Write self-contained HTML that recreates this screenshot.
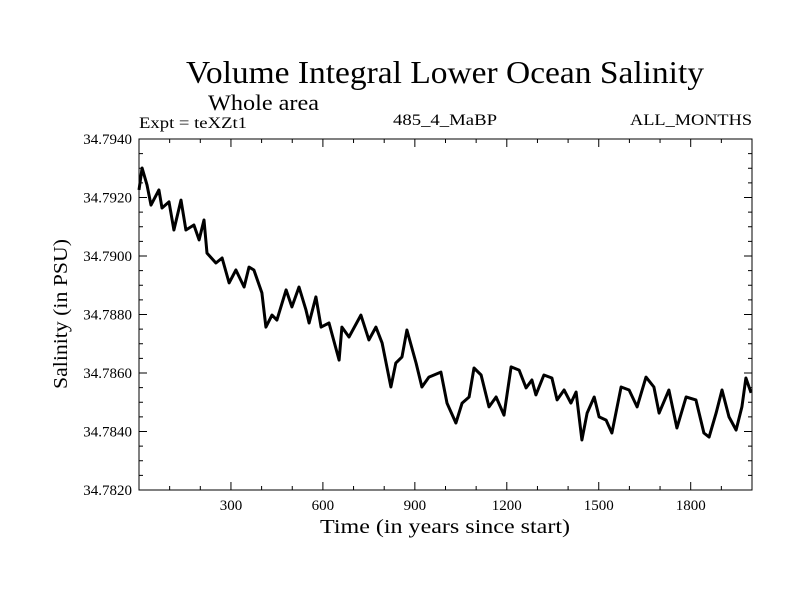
<!DOCTYPE html>
<html><head><meta charset="utf-8"><style>
html,body{margin:0;padding:0;background:#fff}
svg{display:block}
text{font-family:"Liberation Serif",serif;fill:#000}
</style></head><body>
<svg id="chart" width="800" height="600" viewBox="0 0 800 600" xmlns="http://www.w3.org/2000/svg">
<text x="445" y="83" font-size="32" text-anchor="middle" textLength="518" lengthAdjust="spacingAndGlyphs">Volume Integral Lower Ocean Salinity</text>
<text x="208" y="110" font-size="22" textLength="111" lengthAdjust="spacingAndGlyphs">Whole area</text>
<text x="139" y="128" font-size="16" textLength="108" lengthAdjust="spacingAndGlyphs">Expt = teXZt1</text>
<text x="445" y="125" font-size="16" text-anchor="middle" textLength="104" lengthAdjust="spacingAndGlyphs">485_4_MaBP</text>
<text x="752" y="125" font-size="16" text-anchor="end" textLength="122" lengthAdjust="spacingAndGlyphs">ALL_MONTHS</text>
<rect x="139" y="139" width="613" height="351" fill="none" stroke="#000" stroke-width="1"/>
<g id="ticks"></g>
<g id="series"></g>
<text x="445" y="533" font-size="20" text-anchor="middle" textLength="250" lengthAdjust="spacingAndGlyphs">Time (in years since start)</text>
<text x="0" y="0" font-size="20" text-anchor="middle" transform="translate(67,314) rotate(-90)" textLength="150" lengthAdjust="spacingAndGlyphs">Salinity (in PSU)</text>
</svg>
<script>
const years = [0,10,26,39,65,75,98,114,137,153,179,196,212,222,251,271,294,316,343,359,375,401,414,434,450,480,499,522,545,555,577,594,620,653,662,685,724,750,773,793,822,838,858,874,904,923,946,985,1005,1034,1054,1077,1093,1116,1142,1165,1191,1214,1240,1263,1282,1295,1321,1347,1364,1387,1409,1426,1445,1462,1485,1501,1524,1543,1573,1599,1625,1654,1680,1697,1729,1755,1785,1817,1843,1860,1883,1902,1925,1948,1967,1980,1997];
const salinity = [34.79226,34.79301,34.79243,34.79174,34.79226,34.79164,34.79185,34.79089,34.79191,34.79089,34.79106,34.79055,34.79123,34.79010,34.78976,34.78993,34.78908,34.78952,34.78894,34.78962,34.78952,34.78874,34.78757,34.78798,34.78781,34.78884,34.78826,34.78894,34.78815,34.78771,34.78860,34.78757,34.78771,34.78644,34.78757,34.78723,34.78798,34.78713,34.78757,34.78703,34.78552,34.78634,34.78655,34.78747,34.78634,34.78552,34.78586,34.78603,34.78497,34.78429,34.78497,34.78518,34.78617,34.78593,34.78484,34.78518,34.78456,34.78621,34.78610,34.78549,34.78576,34.78525,34.78593,34.78583,34.78508,34.78542,34.78497,34.78535,34.78371,34.78463,34.78518,34.78450,34.78439,34.78395,34.78552,34.78542,34.78484,34.78586,34.78552,34.78463,34.78542,34.78412,34.78518,34.78508,34.78395,34.78381,34.78463,34.78542,34.78450,34.78405,34.78484,34.78583,34.78532];
const xTickLabels = [300,600,900,1200,1500,1800];
const yTickLabels = ["34.7820","34.7840","34.7860","34.7880","34.7900","34.7920","34.7940"];

const NS="http://www.w3.org/2000/svg";
const L=139,R=752,T=139,B=490, X0=0,X1=2000, Y0=34.782,Y1=34.794;
const sx=v=>L+(v-X0)/(X1-X0)*(R-L);
const sy=v=>B-(v-Y0)/(Y1-Y0)*(B-T);
const tg=document.getElementById('ticks');
function line(x1,y1,x2,y2,name){const l=document.createElementNS(NS,'line');l.setAttribute('x1',x1);l.setAttribute('y1',y1);l.setAttribute('x2',x2);l.setAttribute('y2',y2);l.setAttribute('stroke','#000');l.setAttribute('stroke-width','1');


tg.appendChild(l);}
for(let v=100;v<X1;v+=100){const x=sx(v);const len=(v%300===0)?8:4;line(x,B,x,B-len,'x-tick');line(x,T,x,T+len,'x-tick-top');}
for(let i=1;i<24;i++){const v=Y0+i*0.0005;const y=sy(v);const len=(i%4===0)?8:4;line(L,y,L+len,y,'y-tick');line(R,y,R-len,y,'y-tick-right');}
xTickLabels.forEach(v=>{const t=document.createElementNS(NS,'text');t.setAttribute('x',sx(v));t.setAttribute('y',510);t.setAttribute('font-size','15');t.setAttribute('text-anchor','middle');t.textContent=v;


tg.appendChild(t);});
yTickLabels.forEach(s=>{const t=document.createElementNS(NS,'text');t.setAttribute('x',132);t.setAttribute('y',sy(parseFloat(s))+5);t.setAttribute('font-size','15');t.setAttribute('text-anchor','end');t.textContent=s;


tg.appendChild(t);});
const p=document.createElementNS(NS,'polyline');
p.setAttribute('points',years.map((y,i)=>sx(y).toFixed(1)+','+sy(salinity[i]).toFixed(1)).join(' '));
p.setAttribute('fill','none');p.setAttribute('stroke','#000');p.setAttribute('stroke-width','3');p.setAttribute('stroke-linejoin','round');


document.getElementById('series').appendChild(p);
</script>
</body></html>
